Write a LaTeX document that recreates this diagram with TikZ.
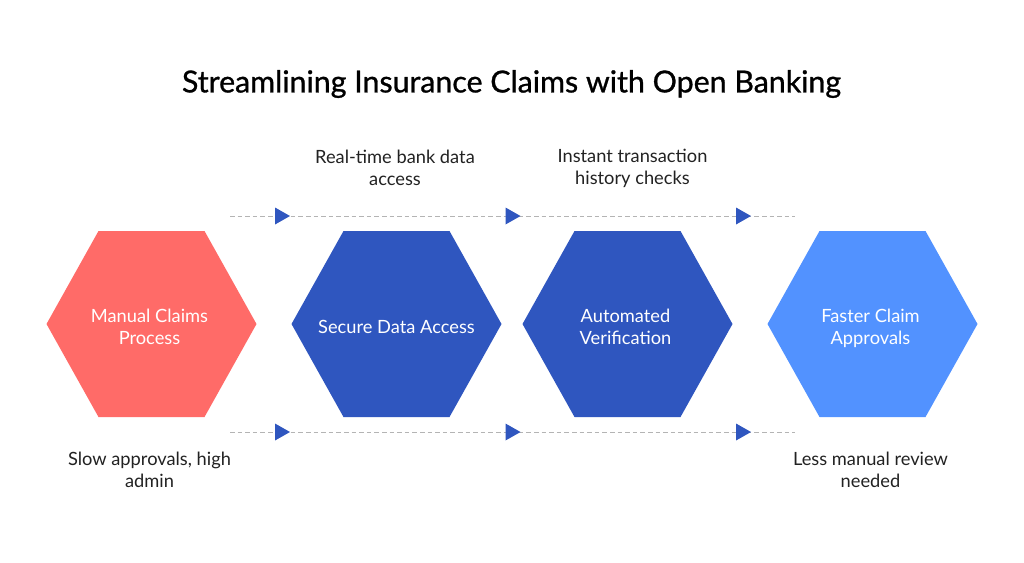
\documentclass[tikz,border=0pt]{standalone}
\usepackage{fontspec}
\setmainfont{Lato}
\newfontfamily\titlefont{Lato}[FakeBold=0.9]
\definecolor{hred}{HTML}{FF6B68}
\definecolor{hdark}{HTML}{2F56BF}
\definecolor{hlight}{HTML}{5292FF}
\definecolor{dashc}{HTML}{B4B4B4}
\definecolor{txt}{HTML}{222222}
\tikzset{
  x=0.75pt,y=-0.75pt,
  hexlabel/.style={text=white,font=\fontsize{13.7}{16.5}\selectfont,align=center,inner sep=0pt},
  note/.style={text=txt,font=\fontsize{13.7}{16.5}\selectfont,align=center,inner sep=0pt},
  dashline/.style={draw=dashc,line width=0.75pt,dash pattern=on 3.4pt off 2.3pt},
  hexagon/.pic={\fill[pic actions] (-105,0) -- (-53,-93) -- (53,-93) -- (105,0) -- (53,93) -- (-53,93) -- cycle;},
  marker/.pic={\fill[hdark] (-7.5,-8.5) -- (7.5,0) -- (-7.5,8.5) -- cycle;}
}
\begin{document}
\begin{tikzpicture}
\useasboundingbox (0,0) rectangle (1024,562);
\fill[white] (0,0) rectangle (1024,562);
\node[inner sep=0pt,text=black,font=\titlefont\fontsize{22.75}{28}\selectfont] (title) at (511.5,84) {Streamlining Insurance Claims with Open Banking};

\coordinate (tl) at (230,216); \coordinate (tr) at (795,216);
\coordinate (bl) at (230,432); \coordinate (br) at (795,432);
\draw[dashline] (tl) -- (tr);
\draw[dashline] (bl) -- (br);
\foreach \mx in {282.5,513,743.5}{
  \pic at (\mx,216) {marker};
  \pic at (\mx,432) {marker};
}

\pic[hred] at (151.5,324) {hexagon};
\pic[hdark] at (396.5,324) {hexagon};
\pic[hdark] at (627.5,324) {hexagon};
\pic[hlight] at (872.5,324) {hexagon};

\node[hexlabel] (h1) at (149.5,327) {Manual Claims\\Process};
\node[hexlabel] (h2) at (396.5,327) {Secure Data Access};
\node[hexlabel] (h3) at (625.5,327) {Automated\\Verification};
\node[hexlabel] (h4) at (870.5,328) {Faster Claim\\Approvals};

\node[note] (n1) at (395,167.5) {Real-time bank data\\access};
\node[note] (n2) at (632.5,168.5) {Instant transaction\\history checks};
\node[note] (n3) at (149.5,470) {Slow approvals, high\\admin};
\node[note] (n4) at (870.5,470) {Less manual review\\needed};
\end{tikzpicture}
\end{document}
